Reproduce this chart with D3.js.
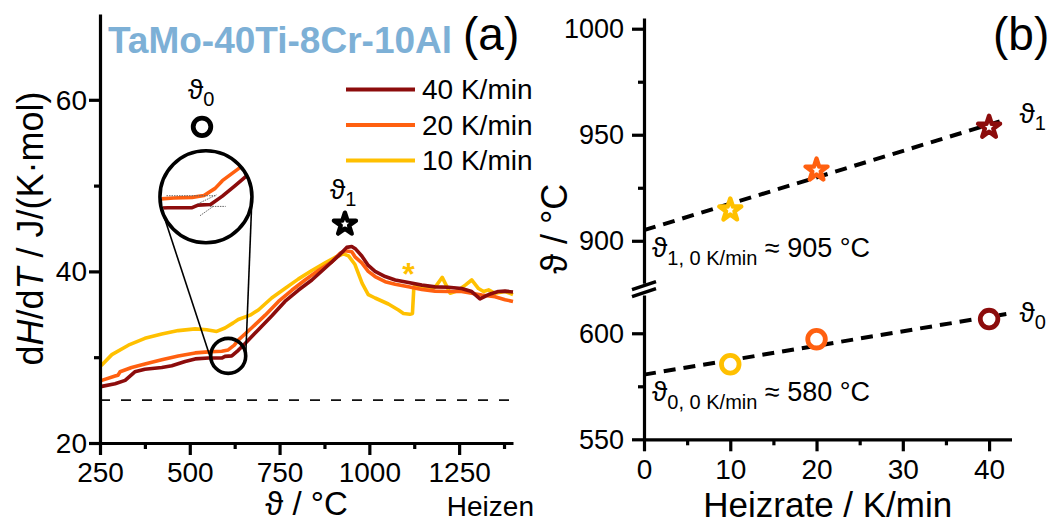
<!DOCTYPE html>
<html><head><meta charset="utf-8">
<script src="https://cdn.jsdelivr.net/npm/d3@7/dist/d3.min.js"></script>
<style>
body{margin:0;background:#fff}
svg{display:block}
text{font-family:"Liberation Sans",Arial,"DejaVu Sans",sans-serif;fill:#000}
</style>
</head><body>
<svg id="c" width="1054" height="523"></svg>
<script>
// ---------------- DATA ----------------
// Panel (a): dH/dT curves
const temp40 = [250,255,292,320,347,375,422,450,487,515,552,589,598,617,635,654,691,728,765,802,840,877,914,937,951,962,979,997,1016,1044,1072,1109,1146,1183,1220,1257,1285,1308,1332,1359,1378,1400];
const cp40   = [26.6,26.6,26.9,27.3,28.3,28.6,28.8,29.0,29.5,29.8,29.9,29.9,30.1,30.15,30.8,31.6,33.2,34.8,36.5,37.8,39.0,40.4,41.8,42.8,42.9,42.6,41.8,40.7,40.0,39.4,39.0,38.7,38.4,38.2,38.15,38.0,37.65,36.8,37.3,37.65,37.7,37.6];
const temp20 = [250,255,292,300,306,338,375,422,468,515,561,589,607,624,635,672,710,747,784,821,858,895,918,932,951,960,979,997,1016,1044,1072,1109,1146,1183,1220,1257,1285,1313,1350,1378,1400];
const cp20   = [27.3,27.3,27.8,27.9,28.3,28.8,29.2,29.7,30.15,30.5,30.65,30.7,30.85,31.4,32.0,33.4,34.9,36.5,37.8,39.0,40.1,41.1,42.1,42.4,42.3,41.7,41.0,40.0,39.4,38.8,38.5,38.2,37.9,37.7,37.65,37.65,37.45,37.25,37.05,36.7,36.5];
const temp10 = [250,255,283,329,375,422,468,515,547,575,598,621,635,668,691,728,765,802,840,877,905,928,942,960,980,997,1016,1053,1081,1095,1113,1120,1124,1146,1183,1203,1225,1243,1267,1285,1304,1318,1332,1350,1378,1400];
const cp10   = [29.1,29.1,30.3,31.4,32.2,32.7,33.1,33.3,33.2,33.0,33.4,34.0,34.4,34.9,35.5,36.9,38.0,39.1,40.1,41.0,41.65,42.05,41.8,40.8,38.6,37.3,36.9,36.2,35.5,35.1,35.0,35.1,38.2,38.0,38.15,39.3,37.45,37.7,38.4,39.0,38.0,37.65,37.85,37.45,37.65,37.3];
const legendLabels = ["40 K/min","20 K/min","10 K/min"];
const xTicksA = [250,500,750,1000,1250];
const xMinorA = [375,625,875,1125,1375];
const yTicksA = [20,40,60];
const yMinorA = [30,50];
const refLevel = 25;                // dashed reference line
const theta0Mark = [534, 56.85];    // annotation markers (data units)
const theta1Mark = [932, 45.5];
const asteriskMark = [1109, 40.4];
const zoomCenter = [607, 30.15];    // small circle on curves
const insetCenter = [545, 48.7];    // big inset circle
const insetT = [540, 680];          // inset view window
const insetV = [27.18, 34.32];
const tangent20a = [[550,30.83],[625,30.83]];
const tangent20b = [[598,30.21],[626,30.9]];
const tangent40a = [[616,30.0],[640,30.0]];
const tangent40b = [[601,29.28],[621,30.0]];

// Panel (b)
const rates  = [10, 20, 40];
const theta1 = [914.5, 933.3, 953.5];
const theta0 = [585.4, 597.2, 606.7];
const fitRates = [0, 42];
const fit1 = [905, 957.3];
const fit0 = [580.5, 609.1];
const xTicksB = [0,10,20,30,40];
const xMinorB = [5,15,25,35];
const yTicksBu = [900,950,1000], yMinorBu = [925,975];
const yTicksBl = [550,600],      yMinorBl = [575];

// ---------------- STYLE ----------------
const C40 = "#8C0C0C", C20 = "#FF6010", C10 = "#FFC000";
const rateColors = {10: C10, 20: C20, 40: C40};
const BLUE = "#7DB0D6";
const fmt = d3.format("d");

const svg = d3.select("#c");

function styleAxis(g, fs){
  g.select(".domain").attr("stroke","#000").attr("stroke-width",3.2);
  g.selectAll(".tick line").attr("stroke","#000").attr("stroke-width",3.2);
  g.selectAll(".tick text").attr("font-size",fs).attr("font-family",'"Liberation Sans",Arial,sans-serif').attr("fill","#000");
}

// =============== PANEL (a) ===============
const xA = d3.scaleLinear().domain([250,1400]).range([100,513]);
const yA = d3.scaleLinear().domain([20,70]).range([443,14]);

svg.append("line")
  .attr("x1", xA(250)).attr("x2", xA(1400))
  .attr("y1", yA(refLevel)).attr("y2", yA(refLevel))
  .attr("stroke","#111").attr("stroke-width",1.6).attr("stroke-dasharray","10,11");

const lineA = d3.line().x(d=>xA(d[0])).y(d=>yA(d[1]));
const seriesA = [
  {T: temp10, v: cp10, c: C10},
  {T: temp20, v: cp20, c: C20},
  {T: temp40, v: cp40, c: C40}
];
seriesA.forEach(s=>{
  svg.append("path").datum(s.T.map((t,i)=>[t,s.v[i]]))
    .attr("d", lineA).attr("fill","none").attr("stroke",s.c)
    .attr("stroke-width",3.6).attr("stroke-linejoin","round");
});

const gxA = svg.append("g").attr("transform",`translate(0,${yA(20)})`)
  .call(d3.axisBottom(xA).tickValues(xTicksA).tickFormat(fmt).tickSize(12).tickSizeOuter(0).tickPadding(7));
styleAxis(gxA, 28);
const gxAm = svg.append("g").attr("transform",`translate(0,${yA(20)})`)
  .call(d3.axisBottom(xA).tickValues(xMinorA).tickSize(6).tickFormat(""));
gxAm.select(".domain").remove();
gxAm.selectAll(".tick line").attr("stroke","#000").attr("stroke-width",3.2);

const gyA = svg.append("g").attr("transform",`translate(${xA(250)},0)`)
  .call(d3.axisLeft(yA).tickValues(yTicksA).tickFormat(fmt).tickSize(11).tickSizeOuter(0).tickPadding(2));
styleAxis(gyA, 28);
gyA.selectAll(".tick text").attr("dy","0.34em");
const gyAm = svg.append("g").attr("transform",`translate(${xA(250)},0)`)
  .call(d3.axisLeft(yA).tickValues(yMinorA).tickSize(6).tickFormat(""));
gyAm.select(".domain").remove();
gyAm.selectAll(".tick line").attr("stroke","#000").attr("stroke-width",3.2);

svg.append("text").attr("x",(xA(250)+xA(1400))/2).attr("y",515)
  .attr("text-anchor","middle").attr("font-size",33).text("ϑ / °C");
svg.append("text").attr("x",534).attr("y",516).attr("text-anchor","end")
  .attr("font-size",28).text("Heizen");
const ylab = svg.append("text")
  .attr("transform",`translate(43,${(yA(20)+yA(70))/2}) rotate(-90)`)
  .attr("text-anchor","middle").attr("font-size",36);
ylab.append("tspan").text("d");
ylab.append("tspan").attr("font-style","italic").text("H");
ylab.append("tspan").text("/d");
ylab.append("tspan").attr("font-style","italic").text("T");
ylab.append("tspan").text(" / J/(K·mol)");

svg.append("text").attr("x",108).attr("y",53).attr("font-size",37)
  .attr("font-weight","bold").style("fill",BLUE).text("TaMo-40Ti-8Cr-10Al");
svg.append("text").attr("x",463).attr("y",50).attr("font-size",46).text("(a)");

const legColors = [C40, C20, C10];
legendLabels.forEach((lab,i)=>{
  const ly = 89.5 + i*35.5;
  svg.append("line").attr("x1",346).attr("x2",415).attr("y1",ly).attr("y2",ly)
    .attr("stroke",legColors[i]).attr("stroke-width",4);
  svg.append("text").attr("x",422).attr("y",ly+9.5).attr("font-size",28).text(lab);
});

const starSym = d3.symbol().type(d3.symbolStar).size(150);
svg.append("circle").attr("cx",xA(theta0Mark[0])).attr("cy",yA(theta0Mark[1])).attr("r",8.8)
  .attr("fill","#fff").attr("stroke","#000").attr("stroke-width",4.8);
svg.append("path").attr("d",starSym())
  .attr("transform",`translate(${xA(theta1Mark[0])},${yA(theta1Mark[1])})`)
  .attr("fill","#fff").attr("stroke","#000").attr("stroke-width",4.4).attr("stroke-linejoin","round");

function thetaLabel(x, y, sub, fs, sfs){
  const t = svg.append("text").attr("x",x).attr("y",y).attr("font-size",fs);
  t.append("tspan").text("ϑ");
  t.append("tspan").attr("font-size",sfs).attr("dy",7).text(sub);
  return t;
}
thetaLabel(xA(theta0Mark[0])-14, yA(theta0Mark[1])-28, "0", 28, 20);
thetaLabel(xA(theta1Mark[0])-15, yA(theta1Mark[1])-25, "1", 28, 20);

svg.append("text").attr("x",xA(asteriskMark[0])).attr("y",yA(asteriskMark[1])+17)
  .attr("text-anchor","middle").attr("font-size",32).attr("font-weight","bold")
  .style("fill",C10).text("*");

// ---- magnifier inset ----
const zc = [xA(zoomCenter[0]), yA(zoomCenter[1])], zr = 17.5;
const ic = [xA(insetCenter[0]), yA(insetCenter[1])], ir = 46;
(function(){
  const dx = zc[0]-ic[0], dy = zc[1]-ic[1], L = Math.hypot(dx,dy);
  const base = Math.atan2(dy,dx), th = Math.acos((ir-zr)/L);
  [base+th, base-th].forEach(a=>{
    const n=[Math.cos(a),Math.sin(a)];
    svg.append("line")
      .attr("x1",ic[0]+ir*n[0]).attr("y1",ic[1]+ir*n[1])
      .attr("x2",zc[0]+zr*n[0]).attr("y2",zc[1]+zr*n[1])
      .attr("stroke","#000").attr("stroke-width",1.6);
  });
})();
svg.append("circle").attr("cx",zc[0]).attr("cy",zc[1]).attr("r",zr)
  .attr("fill","none").attr("stroke","#000").attr("stroke-width",3.6);
svg.append("circle").attr("cx",ic[0]).attr("cy",ic[1]).attr("r",ir).attr("fill","#fff");
svg.append("clipPath").attr("id","insetClip").append("circle")
  .attr("cx",ic[0]).attr("cy",ic[1]).attr("r",ir-1.5);
const xi = d3.scaleLinear().domain(insetT).range([ic[0]-ir, ic[0]+ir]);
const yi = d3.scaleLinear().domain(insetV).range([ic[1]+ir, ic[1]-ir]);
const lineI = d3.line().x(d=>xi(d[0])).y(d=>yi(d[1]));
const gi = svg.append("g").attr("clip-path","url(#insetClip)");
[{T:temp20,v:cp20,c:C20},{T:temp40,v:cp40,c:C40}].forEach(s=>{
  gi.append("path").datum(s.T.map((t,i)=>[t,s.v[i]])).attr("d",lineI)
    .attr("fill","none").attr("stroke",s.c).attr("stroke-width",3.6).attr("stroke-linejoin","round");
});
[tangent20a,tangent20b,tangent40a,tangent40b].forEach(tl=>{
  gi.append("path").datum(tl).attr("d",lineI).attr("fill","none")
    .attr("stroke","#666").attr("stroke-width",1).attr("stroke-dasharray","1.5,1");
});
svg.append("circle").attr("cx",ic[0]).attr("cy",ic[1]).attr("r",ir)
  .attr("fill","none").attr("stroke","#000").attr("stroke-width",3.6);

// =============== PANEL (b) ===============
const xB  = d3.scaleLinear().domain([0,42.6]).range([644,1011.5]);
const yBu = d3.scaleLinear().domain([880,1005]).range([283.2,18.1]);
const yBl = d3.scaleLinear().domain([550,618]).range([439.3,295.1]);

const lineU = d3.line().x(d=>xB(d[0])).y(d=>yBu(d[1]));
const lineL = d3.line().x(d=>xB(d[0])).y(d=>yBl(d[1]));
svg.append("path").datum(fitRates.map((r,i)=>[r,fit1[i]])).attr("d",lineU)
  .attr("fill","none").attr("stroke","#000").attr("stroke-width",4).attr("stroke-dasharray","12,8");
svg.append("path").datum(fitRates.map((r,i)=>[r,fit0[i]])).attr("d",lineL)
  .attr("fill","none").attr("stroke","#000").attr("stroke-width",4).attr("stroke-dasharray","12,8");

rates.forEach((r,i)=>{
  svg.append("path").attr("d",starSym())
    .attr("transform",`translate(${xB(r)},${yBu(theta1[i])})`)
    .attr("fill","#fff").attr("stroke",rateColors[r]).attr("stroke-width",4.4).attr("stroke-linejoin","round");
  svg.append("circle").attr("cx",xB(r)).attr("cy",yBl(theta0[i])).attr("r",8.8)
    .attr("fill","#fff").attr("stroke",rateColors[r]).attr("stroke-width",4.8);
});

const gxB = svg.append("g").attr("transform",`translate(0,${yBl(550)})`)
  .call(d3.axisBottom(xB).tickValues(xTicksB).tickFormat(fmt).tickSize(12).tickSizeOuter(0).tickPadding(8));
styleAxis(gxB, 28);
const gxBm = svg.append("g").attr("transform",`translate(0,${yBl(550)})`)
  .call(d3.axisBottom(xB).tickValues(xMinorB).tickSize(6).tickFormat(""));
gxBm.select(".domain").remove();
gxBm.selectAll(".tick line").attr("stroke","#000").attr("stroke-width",3.2);

[[yBu,yTicksBu,yMinorBu],[yBl,yTicksBl,yMinorBl]].forEach(([sc,maj,mn])=>{
  const g = svg.append("g").attr("transform",`translate(${xB(0)},0)`)
    .call(d3.axisLeft(sc).tickValues(maj).tickFormat(fmt).tickSize(12).tickSizeOuter(0).tickPadding(8));
  styleAxis(g, 27);
  g.selectAll(".tick text").attr("dy","0.34em");
  const gm = svg.append("g").attr("transform",`translate(${xB(0)},0)`)
    .call(d3.axisLeft(sc).tickValues(mn).tickSize(6).tickFormat(""));
  gm.select(".domain").remove();
  gm.selectAll(".tick line").attr("stroke","#000").attr("stroke-width",3.2);
});
(function(){
  const mid = (yBu(880)+yBl(618))/2, x0 = xB(0);
  [-3.5, 3.5].forEach(o=>{
    svg.append("line").attr("x1",x0-12).attr("x2",x0+12)
      .attr("y1",mid+o+4).attr("y2",mid+o-4)
      .attr("stroke","#000").attr("stroke-width",3.4);
  });
})();

svg.append("text").attr("x",(xB(0)+xB(42.6))/2).attr("y",517)
  .attr("text-anchor","middle").attr("font-size",35).text("Heizrate / K/min");
svg.append("text").attr("transform",`translate(567,${(yBu(1005)+yBl(550))/2}) rotate(-90)`)
  .attr("text-anchor","middle").attr("font-size",36).text("ϑ / °C");
svg.append("text").attr("x",993).attr("y",50).attr("font-size",46).text("(b)");

thetaLabel(xB(42.6)+8, yBu(fit1[1])+4, "1", 28, 20);
thetaLabel(xB(42.6)+8, yBl(fit0[1])+8, "0", 28, 20);

function extrapLabel(x, y, sub, rest){
  const t = svg.append("text").attr("x",x).attr("y",y).attr("font-size",27);
  t.append("tspan").attr("font-size",28).text("ϑ");
  t.append("tspan").attr("font-size",20).attr("dy",8).text(sub);
  t.append("tspan").attr("dy",-8).text(" " + rest);
}
extrapLabel(xB(0)+8, yBu(fit1[0])+27, "1, 0 K/min", "≈ 905 °C");
extrapLabel(xB(0)+8, yBl(fit0[0])+26, "0, 0 K/min", "≈ 580 °C");
</script>
</body></html>
